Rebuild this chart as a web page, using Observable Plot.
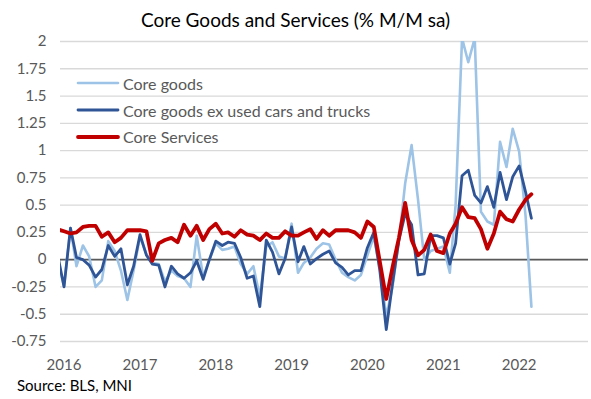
<!DOCTYPE html>
<html><head><meta charset="utf-8">
<script src="https://cdn.jsdelivr.net/npm/d3@7"></script>
<script src="https://cdn.jsdelivr.net/npm/@observablehq/plot@0.6"></script>
<style>
body{margin:0;background:#fff;}
#wrap{position:relative;width:591px;height:399px;font-family:Lato,"Open Sans",sans-serif;overflow:hidden;}
#title{position:absolute;left:0;top:8px;width:591px;text-align:center;font-size:19px;color:#000;line-height:24px;}
#chart{position:absolute;left:0;top:30px;}
#legend{position:absolute;left:76px;top:70px;}
.row{display:flex;align-items:center;height:26.7px;font-size:16px;color:#595959;white-space:nowrap;}
.row svg{margin-right:3px;}
#source{position:absolute;left:17px;top:375px;font-size:15px;color:#000;line-height:20px;}
</style></head><body>
<div id="wrap">
  <div id="title">Core Goods and Services (% M/M sa)</div>
  <div id="chart"></div>
  <div id="legend"></div>
  <div id="source">Source: BLS, MNI</div>
</div>
<script>
const months = ["2015-12",
"2016-01","2016-02","2016-03","2016-04","2016-05","2016-06","2016-07","2016-08","2016-09","2016-10","2016-11","2016-12",
"2017-01","2017-02","2017-03","2017-04","2017-05","2017-06","2017-07","2017-08","2017-09","2017-10","2017-11","2017-12",
"2018-01","2018-02","2018-03","2018-04","2018-05","2018-06","2018-07","2018-08","2018-09","2018-10","2018-11","2018-12",
"2019-01","2019-02","2019-03","2019-04","2019-05","2019-06","2019-07","2019-08","2019-09","2019-10","2019-11","2019-12",
"2020-01","2020-02","2020-03","2020-04","2020-05","2020-06","2020-07","2020-08","2020-09","2020-10","2020-11","2020-12",
"2021-01","2021-02","2021-03","2021-04","2021-05","2021-06","2021-07","2021-08","2021-09","2021-10","2021-11","2021-12",
"2022-01","2022-02","2022-03"];

const coreGoods = [0.0,
-0.24,0.29,-0.06,0.13,0.03,-0.25,-0.19,0.17,0.08,-0.10,-0.37,-0.10,
0.21,0.05,-0.03,-0.04,-0.20,-0.10,-0.15,-0.17,-0.25,0.22,-0.16,0.00,
0.15,0.09,0.10,0.12,-0.04,-0.13,-0.06,-0.34,0.12,0.16,0.03,0.01,
0.33,-0.12,-0.03,0.02,0.10,0.15,0.14,0.00,-0.12,-0.16,-0.19,-0.14,
0.04,0.21,-0.08,-0.52,-0.25,0.18,0.70,1.05,0.55,0.00,0.08,0.10,
0.12,-0.12,0.50,2.03,1.81,2.03,0.44,0.35,0.32,1.08,0.85,1.20,
0.99,0.40,-0.43];

const coreGoodsExCars = [0.05,
-0.25,0.29,0.02,0.00,-0.05,-0.16,-0.09,0.13,0.03,0.10,-0.23,-0.06,
0.23,0.04,-0.04,-0.05,-0.25,-0.06,-0.13,-0.17,-0.12,-0.01,-0.18,0.00,
0.17,0.13,0.16,0.15,0.02,-0.17,-0.15,-0.43,0.18,0.07,-0.13,0.01,
0.30,-0.02,0.12,-0.04,0.01,0.05,0.08,-0.03,-0.07,-0.14,-0.10,-0.10,
0.11,0.25,-0.10,-0.64,-0.22,0.18,0.42,0.32,-0.14,-0.13,0.22,0.22,
0.20,-0.04,0.15,0.77,0.82,0.59,0.52,0.67,0.48,0.80,0.55,0.76,
0.86,0.62,0.38];

const coreServices = [0.28,
0.26,0.24,0.25,0.30,0.31,0.31,0.21,0.25,0.16,0.20,0.27,0.27,
0.27,0.26,-0.01,0.15,0.18,0.20,0.16,0.32,0.22,0.31,0.18,0.28,
0.33,0.24,0.25,0.21,0.27,0.23,0.22,0.18,0.24,0.20,0.20,0.26,
0.22,0.22,0.25,0.28,0.19,0.27,0.22,0.27,0.27,0.27,0.25,0.20,
0.35,0.30,-0.02,-0.36,-0.07,0.20,0.52,0.18,0.04,0.09,0.23,0.08,
0.06,0.24,0.33,0.48,0.39,0.38,0.28,0.10,0.24,0.44,0.37,0.35,
0.46,0.55,0.60];

const seriesNames = ["Core goods", "Core goods ex used cars and trucks", "Core Services"];
const seriesColors = ["#9DC3E6", "#2F5597", "#C00000"];
const seriesWidths = [2.6, 2.8, 3.8];
const yTicks = [2, 1.75, 1.5, 1.25, 1, 0.75, 0.5, 0.25, 0, -0.25, -0.5, -0.75];
const yearLabels = ["2016", "2017", "2018", "2019", "2020", "2021", "2022"];
const xStart = "2015-12-15";
const xEnd = "2022-12-01";

const parseMonth = d3.utcParse("%Y-%m");
const dates = months.map(parseMonth);
const seriesValues = [coreGoods, coreGoodsExCars, coreServices];
const tables = seriesValues.map((vals, s) => dates.map((d, i) => ({date: d, value: vals[i], series: seriesNames[s]})));
const yearTicks = yearLabels.map(y => new Date(Date.UTC(+y, 0, 1)));

const chart = Plot.plot({
  width: 591,
  height: 346,
  marginTop: 11,
  marginBottom: 35,
  marginLeft: 60,
  marginRight: 3,
  style: {fontFamily: "Lato, 'Open Sans', sans-serif", background: "#fff"},
  x: {type: "utc", domain: [new Date(xStart), new Date(xEnd)]},
  y: {domain: [-0.75, 2]},
  marks: [
    Plot.gridY(yTicks, {stroke: "#d9d9d9", strokeOpacity: 1, strokeWidth: 1.3}),
    Plot.ruleY([0], {stroke: "#595959", strokeWidth: 1.8}),
    Plot.axisY(yTicks, {tickSize: 0, tickPadding: 14, tickFormat: d => String(d), fontSize: 15, fill: "#595959", label: null}),
    Plot.axisX(yearTicks, {tickSize: 0, tickPadding: 18, tickFormat: d3.utcFormat("%Y"), fontSize: 15, fill: "#595959", label: null}),
    ...tables.map((t, s) => Plot.line(t, {x: "date", y: "value", stroke: seriesColors[s], strokeWidth: seriesWidths[s], strokeLinejoin: "round", strokeLinecap: "round", clip: true}))
  ]
});
document.getElementById("chart").appendChild(chart);

const legend = document.getElementById("legend");
seriesNames.forEach((name, s) => {
  const row = document.createElement("div");
  row.className = "row";
  row.innerHTML = `<svg width="44" height="8"><line x1="2" y1="4" x2="42" y2="4" stroke="${seriesColors[s]}" stroke-width="${seriesWidths[s]}" stroke-linecap="round"/></svg><span>${name}</span>`;
  legend.appendChild(row);
});
</script>
</body></html>
